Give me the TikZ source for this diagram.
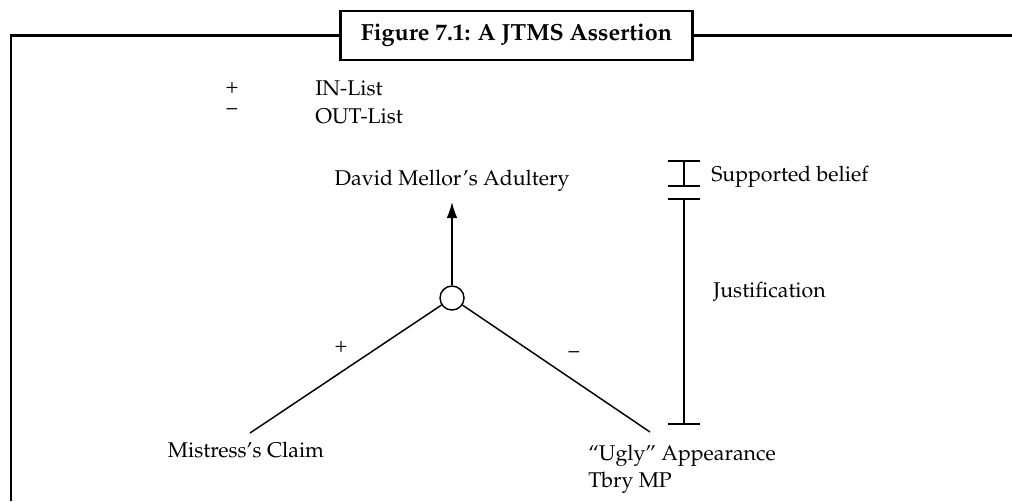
\documentclass[tikz,border=0pt]{standalone}
\usepackage[T1]{fontenc}
\usepackage{mathpazo}
\usetikzlibrary{arrows.meta}
\begin{document}
\begin{tikzpicture}[x=0.75pt,y=-0.75pt,
  frameline/.style={line width=2.2pt},
  link/.style={line width=1.1pt},
  lbl/.style={inner sep=0pt, font=\fontsize{16}{20}\selectfont},
  titlebox/.style={draw, line width=1.7pt, minimum width=264pt, minimum height=37pt,
    inner sep=0pt, font=\fontsize{17.5}{20}\selectfont\bfseries},
  jnode/.style={draw, circle, line width=1.1pt, minimum size=18pt, inner sep=0pt, fill=white}]
\useasboundingbox (0,0) rectangle (1012,501);

% title and frame
\node[titlebox] (title) at (516.5,35.5) {Figure 7.1: A JTMS Assertion};
\draw[frameline] (11,501) -- (11,35.5) -- (title.west);
\draw[frameline] (title.east) -- (1012,35.5);

% legend
\node[lbl] (plus) at (232,88) {+};
\node[lbl] (minus) at (232,112) {\raisebox{0.2ex}{--}};
\node[lbl, anchor=base west] (inlist) at (315,95) {IN-List};
\node[lbl, anchor=base west] (outlist) at (315,123) {OUT-List};

% justification network
\node[lbl, anchor=base] (belief) at (452,185) {David Mellor's Adultery};
\node[jnode] (j) at (452,298) {};
\coordinate (lend) at (250,433);
\coordinate (rend) at (650,432);
\coordinate (tip) at (452,202);
\draw[link, -{Latex[length=12pt,width=8pt]}] (j) -- (tip);
\draw[link] (j) -- (lend);
\draw[link] (j) -- (rend);
\node[lbl] (pl) at (341,347) {+};
\node[lbl] (mi) at (574,354) {--};

\node[lbl, anchor=base] (claim) at (246,457) {Mistress's Claim};
\node[lbl, anchor=base west] (ugly) at (588,460) {``Ugly'' Appearance};
\node[lbl, anchor=base west] (tbry) at (588,487) {Tbry MP};

% brackets
\coordinate (sb1) at (684,161);
\coordinate (sb2) at (684,186);
\coordinate (jb1) at (684,199);
\coordinate (jb2) at (684,424);
\draw[link] (sb1) -- (sb2);
\draw[link] ([xshift=-12]sb1) -- ([xshift=12]sb1);
\draw[link] ([xshift=-12]sb2) -- ([xshift=12]sb2);
\draw[link] (jb1) -- (jb2);
\draw[link] ([xshift=-12]jb1) -- ([xshift=12]jb1);
\draw[link] ([xshift=-12]jb2) -- ([xshift=12]jb2);
\node[lbl, anchor=base west] (sbtext) at (711,181) {Supported belief};
\node[lbl, anchor=base west] (jtext) at (713,297) {Justification};
\end{tikzpicture}
\end{document}
